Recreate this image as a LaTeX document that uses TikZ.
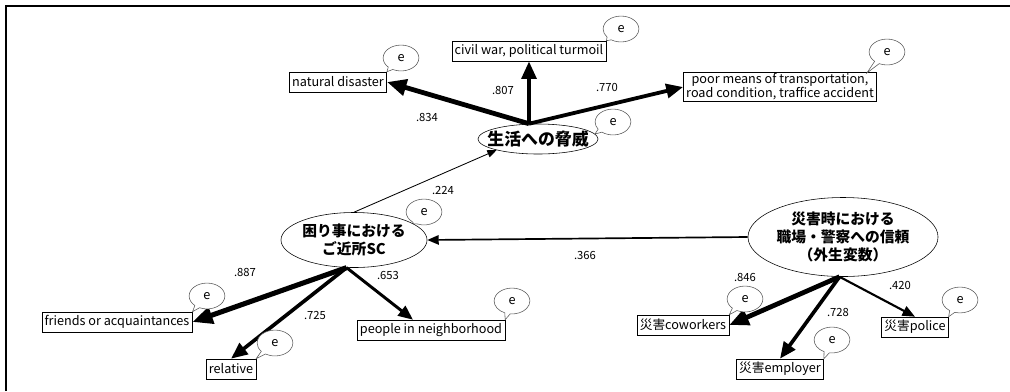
\documentclass[tikz,border=0pt]{standalone}
\usepackage{fontspec}
\setmainfont{Noto Sans CJK JP}
\usetikzlibrary{arrows.meta,calc,shapes.geometric,shapes.callouts}

\begin{document}
\begin{tikzpicture}[x=0.025cm, y=-0.025cm,
  >={Triangle[length=5pt 2.6, width=4pt 2.2]},
  obs/.style={draw, rectangle, inner xsep=2pt, inner ysep=1pt, minimum height=0.5cm,
    font=\fontsize{9}{10}\selectfont, fill=white},
  lat/.style={draw, ellipse, inner sep=-3pt, align=center,
    font=\fontsize{10.5}{12.5}\selectfont\bfseries, fill=white},
  err/.style={draw=black!65, ellipse callout, inner xsep=6.5pt, inner ysep=4pt,
    text height=5pt, text depth=0pt, callout pointer arc=18,
    font=\fontsize{9}{9}\selectfont, fill=white},
  coef/.style={font=\fontsize{8}{8}\selectfont},
  path/.style={->, line width=#1}]
  \useasboundingbox (0,0) rectangle (1010,391);
  \draw[line width=1.5pt] (6,391) -- (6,6) -- (1010,6);

  % latent variables
  \node[lat, minimum width=3cm, minimum height=0.75cm, inner xsep=-7pt,
    font=\fontsize{12}{14}\selectfont\bfseries] (threat) at (538,139) {生活への脅威};
  \node[lat, minimum width=3.65cm, minimum height=1.375cm] (sc) at (354,240) {困り事における\\ご近所SC};
  \node[lat, minimum width=4.75cm, minimum height=1.975cm] (exo) at (843,237) {災害時における\\職場・警察への信頼\\（外生変数）};

  % observed variables
  \node[obs] (nat) at (338,82) {natural disaster};
  \node[obs] (civ) at (529,51) {civil war, political turmoil};
  \node[obs, align=center] (poor) at (780,87) {poor means of transportation,\\road condition, traffice accident};
  \node[obs] (friends) at (117,322) {friends or acquaintances};
  \node[obs] (relative) at (231,369) {relative};
  \node[obs] (people) at (431,330) {people in neighborhood};
  \node[obs] (cow) at (683,325) {災害coworkers};
  \node[obs] (emp) at (780,369) {災害employer};
  \node[obs] (pol) at (915,327) {災害police};

  \coordinate (ttop) at (civ.south |- threat.north);

  % paths
  \draw[path=3.4pt] (ttop) -- (nat.east);
  \draw[path=2.9pt] (ttop) -- (civ.south);
  \draw[path=2.7pt] (ttop) -- (poor.west);
  \draw[path=0.6pt] (sc.north) -- (threat.195);
  \draw[path=1.2pt] (exo.west) -- (sc.east);
  \draw[path=3.6pt] (sc.255) -- (friends.east);
  \draw[path=2.6pt] (sc.255) -- (relative.north);
  \draw[path=2.1pt] (sc.255) -- ($(people.north)+(-18,0)$);
  \draw[path=3.4pt] (exo.265) -- (cow.east);
  \draw[path=2.6pt] (exo.265) -- (emp.north);
  \draw[path=1.5pt] (exo.265) -- (pol.north);

  % coefficients
  \node[coef] (c834) at (427,117) {.834};
  \node[coef] (c807) at (503,90) {.807};
  \node[coef] (c770) at (607,87) {.770};
  \node[coef] (c224) at (443,190) {.224};
  \node[coef] (c366) at (585,255) {.366};
  \node[coef] (c887) at (245,272) {.887};
  \node[coef] (c725) at (315,315) {.725};
  \node[coef] (c653) at (388,275) {.653};
  \node[coef] (c846) at (745,277) {.846};
  \node[coef] (c728) at (838,312) {.728};
  \node[coef] (c420) at (900,285) {.420};

  % errors
  \node[err, callout absolute pointer={(nat.north east)}] (e1) at (401,58) {e};
  \node[err, callout absolute pointer={(civ.north east)}] (e2) at (621,29) {e};
  \node[err, callout absolute pointer={($(poor.north east)+(-10,1)$)}] (e3) at (887,52) {e};
  \node[err, callout absolute pointer={(threat.5)}] (e4) at (613,122) {e};
  \node[err, callout absolute pointer={(sc.15)}] (e5) at (424,212) {e};
  \node[err, callout absolute pointer={(friends.north east)}] (e6) at (207,296) {e};
  \node[err, callout absolute pointer={(relative.north east)}] (e7) at (275,343) {e};
  \node[err, callout absolute pointer={(people.north east)}] (e8) at (512,301) {e};
  \node[err, callout absolute pointer={(cow.north east)}] (e9) at (745,299) {e};
  \node[err, callout absolute pointer={(emp.north east)}] (e10) at (832,340) {e};
  \node[err, callout absolute pointer={(pol.north east)}] (e11) at (960,300) {e};
\end{tikzpicture}
\end{document}
